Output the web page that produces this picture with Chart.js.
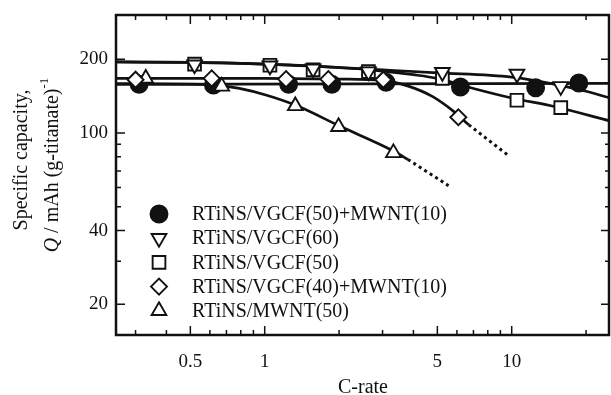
<!DOCTYPE html>
<html>
<head>
<meta charset="utf-8">
<script src="https://cdn.jsdelivr.net/npm/chart.js@4.4.1/dist/chart.umd.min.js"></script>
<style>
  html, body { margin: 0; padding: 0; background: #fff; }
</style>
</head>
<body>
<canvas id="capChart" width="611" height="395"></canvas>
<script>
// series names (legend order)
const seriesNames = [
  'RTiNS/VGCF(50)+MWNT(10)',
  'RTiNS/VGCF(60)',
  'RTiNS/VGCF(50)',
  'RTiNS/VGCF(40)+MWNT(10)',
  'RTiNS/MWNT(50)',
];

// measured points: C-rate / capacity
const rateA = [0.31, 0.62, 1.25, 1.87, 3.1, 6.2, 12.5, 18.7];
const capA = [158, 157, 158, 158, 161, 154, 153, 160];
const rateB = [0.52, 1.05, 1.57, 2.63, 5.24, 10.5, 15.8];
const capB = [190, 188, 183, 178, 177, 174, 155];
const rateC = [0.52, 1.05, 1.57, 2.63, 5.24, 10.5, 15.8];
const capC = [191, 189, 181, 178, 167, 136, 127];
const rateD = [0.30, 0.61, 1.22, 1.81, 3.02, 6.08];
const capD = [165, 167, 166, 166, 165, 116];
const rateE = [0.33, 0.67, 1.33, 1.99, 3.32];
const capE = [167, 155, 129, 106, 83];

// fitted curves
const fitRateA = [0.25, 25];
const fitCapA = [158, 159.5];
const fitRateB = [0.25, 0.5, 1, 2, 3, 5, 10, 15, 20, 25];
const fitCapB = [195, 194, 191, 185, 181, 176, 169, 158, 148, 139];
const fitRateC = [0.25, 0.5, 1, 2, 3, 4, 5, 7, 10, 15, 25];
const fitCapC = [195, 194, 191, 185, 179, 173, 167, 152, 139, 128, 112];
const fitRateD = [0.25, 1, 2, 3, 3.84, 4.77, 5.85, 6.7];
const fitCapD = [167, 167, 166, 164, 155, 141, 122, 108];
const dotRateD = [6.7, 9.75];
const dotCapD = [108, 80.6];
const fitRateE = [0.25, 0.55, 0.7, 0.79, 1.01, 1.33, 2, 3.32, 3.8];
const fitCapE = [159, 158, 155, 152, 143, 130, 107, 84.5, 78];
const dotRateE = [3.8, 5.55];
const dotCapE = [78, 61];

// axis ticks
const xTicks = [0.3, 0.4, 0.5, 0.6, 0.7, 0.8, 0.9, 1, 2, 3, 4, 5, 6, 7, 8, 9, 10, 20];
const xLabels = [0.5, 1, 5, 10];
const yTicks = [20, 30, 40, 50, 60, 70, 80, 90, 100, 200];
const yLabels = [20, 40, 100, 200];

const ink = '#111';
const serif = '"Liberation Serif", "Times New Roman", serif';

const pts = (xs, ys) => xs.map((v, i) => ({ x: v, y: ys[i] }));

const markers = [
  { pointStyle: 'circle', radius: 8.5, rotation: 0, filled: true },
  { pointStyle: 'triangle', radius: 8.5, rotation: 180, filled: false },
  { pointStyle: 'rect', radius: 9, rotation: 0, filled: false },
  { pointStyle: 'rectRot', radius: 8, rotation: 0, filled: false },
  { pointStyle: 'triangle', radius: 8.5, rotation: 0, filled: false },
];

function markerSet(k, xs, ys) {
  const m = markers[k];
  return {
    label: seriesNames[k],
    data: pts(xs, ys),
    showLine: false,
    pointStyle: m.pointStyle,
    pointRadius: m.radius,
    pointRotation: m.rotation,
    pointBackgroundColor: m.filled ? ink : '#fff',
    pointBorderColor: ink,
    pointBorderWidth: 1.9,
    order: 0,
  };
}

function curve(xs, ys, dotted) {
  return {
    data: pts(xs, ys),
    borderColor: ink,
    borderWidth: dotted ? 3 : 2.7,
    borderDash: dotted ? [3, 3.5] : [],
    pointRadius: 0,
    cubicInterpolationMode: 'monotone',
    fill: false,
    order: 1,
  };
}

// markers drawn on top (lower index = drawn later)
const datasets = [
  markerSet(3, rateD, capD),
  markerSet(1, rateB, capB),
  markerSet(4, rateE, capE),
  markerSet(2, rateC, capC),
  markerSet(0, rateA, capA),
  curve(fitRateA, fitCapA),
  curve(fitRateB, fitCapB),
  curve(fitRateC, fitCapC),
  curve(fitRateD, fitCapD),
  curve(dotRateD, dotCapD, true),
  curve(fitRateE, fitCapE),
  curve(dotRateE, dotCapE, true),
];

const decor = {
  id: 'decor',
  afterDatasetsDraw(chart) {
    const { ctx, chartArea: a, scales } = chart;
    const x = scales.x;
    const y = scales.y;
    ctx.save();

    // inward ticks on all four sides
    ctx.strokeStyle = ink;
    ctx.lineWidth = 1.5;
    ctx.beginPath();
    xTicks.forEach((v) => {
      const px = x.getPixelForValue(v);
      const len = xLabels.includes(v) ? 9 : 5;
      ctx.moveTo(px, a.bottom); ctx.lineTo(px, a.bottom - len);
      ctx.moveTo(px, a.top); ctx.lineTo(px, a.top + len);
    });
    yTicks.forEach((v) => {
      const py = y.getPixelForValue(v);
      const len = yLabels.includes(v) ? 9 : 5;
      ctx.moveTo(a.left, py); ctx.lineTo(a.left + len, py);
      ctx.moveTo(a.right, py); ctx.lineTo(a.right - len, py);
    });
    ctx.stroke();

    // frame
    ctx.lineWidth = 2.5;
    ctx.strokeRect(a.left, a.top, a.right - a.left - 1, a.bottom - a.top);

    // legend inside the plot
    ctx.font = '20px ' + serif;
    ctx.textAlign = 'left';
    ctx.textBaseline = 'middle';
    seriesNames.forEach((name, i) => {
      const m = markers[i];
      const ly = 214 + i * 24.2;
      ctx.fillStyle = m.filled ? ink : '#fff';
      ctx.strokeStyle = ink;
      ctx.lineWidth = 1.9;
      Chart.helpers.drawPoint(ctx, {
        pointStyle: m.pointStyle, radius: m.radius, rotation: m.rotation, borderWidth: 1.9,
      }, 159, ly);
      ctx.fillStyle = ink;
      ctx.fillText(name, 192, ly + 1);
    });

    // y axis title (two lines, italic Q, superscript)
    ctx.fillStyle = ink;
    ctx.save();
    ctx.translate(22, 160);
    ctx.rotate(-Math.PI / 2);
    ctx.textAlign = 'center';
    ctx.font = '20px ' + serif;
    ctx.fillText('Specific capacity,', 0, 0);
    ctx.restore();

    const parts = [
      { t: 'Q', f: 'italic 20px ' + serif, dy: 0 },
      { t: ' / mAh (g-titanate)', f: '20px ' + serif, dy: 0 },
      { t: '-1', f: '13px ' + serif, dy: -8 },
    ];
    let total = 0;
    parts.forEach((p) => { ctx.font = p.f; p.w = ctx.measureText(p.t).width; total += p.w; });
    ctx.save();
    ctx.translate(53, 165);
    ctx.rotate(-Math.PI / 2);
    ctx.textAlign = 'left';
    let cx = -total / 2;
    parts.forEach((p) => {
      ctx.font = p.f;
      ctx.fillText(p.t, cx, p.dy);
      cx += p.w;
    });
    ctx.restore();

    ctx.restore();
  },
};

new Chart(document.getElementById('capChart'), {
  type: 'line',
  data: { datasets },
  options: {
    responsive: false,
    animation: false,
    layout: { autoPadding: false, padding: { top: 15, right: 1, left: 0, bottom: 0 } },
    plugins: { legend: { display: false }, tooltip: { enabled: false } },
    scales: {
      x: {
        type: 'logarithmic',
        min: 0.25,
        max: 25,
        afterBuildTicks: (s) => { s.ticks = xTicks.map((v) => ({ value: v })); },
        afterFit: (s) => { s.height = 60; s.paddingLeft = 0; s.paddingRight = 0; },
        ticks: {
          autoSkip: false,
          maxRotation: 0,
          padding: 16,
          color: ink,
          font: { family: serif, size: 19 },
          callback: (v) => (xLabels.includes(v) ? String(v) : ''),
        },
        grid: { display: false, drawTicks: false },
        border: { display: false },
        title: {
          display: true,
          text: 'C-rate',
          color: ink,
          font: { family: serif, size: 20, lineHeight: 0.7 },
          padding: 0,
        },
      },
      y: {
        type: 'logarithmic',
        min: 15,
        max: 303,
        afterBuildTicks: (s) => { s.ticks = yTicks.map((v) => ({ value: v })); },
        afterFit: (s) => { s.width = 116; s.paddingTop = 0; s.paddingBottom = 0; },
        ticks: {
          autoSkip: false,
          padding: 8,
          color: ink,
          font: { family: serif, size: 19 },
          callback: (v) => (yLabels.includes(v) ? String(v) : ''),
        },
        grid: { display: false, drawTicks: false },
        border: { display: false },
      },
    },
  },
  plugins: [decor],
});
</script>
</body>
</html>
